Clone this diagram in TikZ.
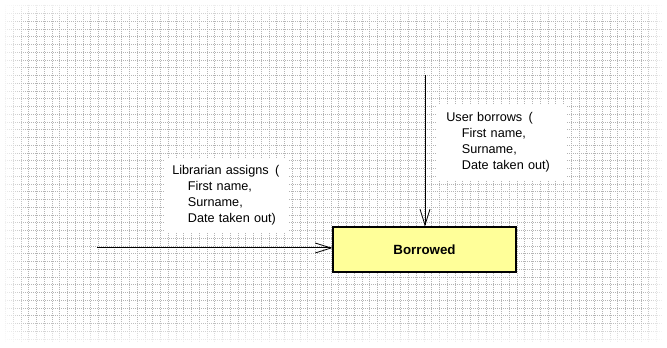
\documentclass[tikz,border=0pt]{standalone}
\usepackage{fontspec}
\setmainfont{Liberation Sans}
\usetikzlibrary{arrows.meta,fadings}
\definecolor{statefill}{HTML}{FFFF99}
\definecolor{gridgray}{HTML}{B4B4B4}
\tikzfading[name=edge right,left color=transparent!0,right color=transparent!100]
\tikzfading[name=edge left,left color=transparent!100,right color=transparent!0]
\tikzfading[name=edge down,top color=transparent!0,bottom color=transparent!100]
\tikzfading[name=edge up,top color=transparent!100,bottom color=transparent!0]
\begin{document}
\begin{tikzpicture}[x=0.75pt,y=-0.75pt,>={Straight Barb[length=12pt,width=7.5pt,line width=0.6pt]},
 font=\fontsize{9.5}{12}\selectfont,
 gridline/.style={gridgray,line width=0.75pt,dash pattern=on 0.75pt off 0.75pt},
 statebox/.style={draw,line width=0.8pt,fill=statefill,minimum width=137.25pt,minimum height=33.75pt,font=\fontsize{10}{12}\selectfont\bfseries},
 flowlabel/.style={fill=white,anchor=north west,align=left,inner ysep=5.6pt},
 flow/.style={->,line width=0.75pt}]
\useasboundingbox (0,0) rectangle (667,348);
\foreach \i in {0,...,84}
 \draw[gridline] (5.55+7.75*\i,5) -- (5.55+7.75*\i,342);
\foreach \j in {0,...,43}
 \draw[gridline] (5,6+7.75*\j) -- (662,6+7.75*\j);
\fill[white,path fading=edge right] (0,0) rectangle (26,348);
\fill[white,path fading=edge left] (641,0) rectangle (667,348);
\fill[white,path fading=edge down] (0,0) rectangle (667,22);
\fill[white,path fading=edge up] (0,318) rectangle (667,348);
\node[flowlabel,inner xsep=5.25pt,text width=82pt] (lib) at (165,158)
 {Librarian assigns~\,(\\\hspace*{11.7pt}First name,\\\hspace*{11.7pt}Surname,\\\hspace*{11.7pt}Date taken out)};
\node[flowlabel,inner xsep=6.75pt,text width=84pt] (usr) at (437,105)
 {User borrows~\,(\\\hspace*{11.7pt}First name,\\\hspace*{11.7pt}Surname,\\\hspace*{11.7pt}Date taken out)};
\node[statebox] (borrowed) at (424.5,249.5) {Borrowed};
\coordinate (libin) at (97,248);
\coordinate (usrin) at (425,75);
\draw[flow] (libin) -- (libin -| borrowed.west);
\draw[flow] (usrin) -- (usrin |- borrowed.north);
\end{tikzpicture}
\end{document}
